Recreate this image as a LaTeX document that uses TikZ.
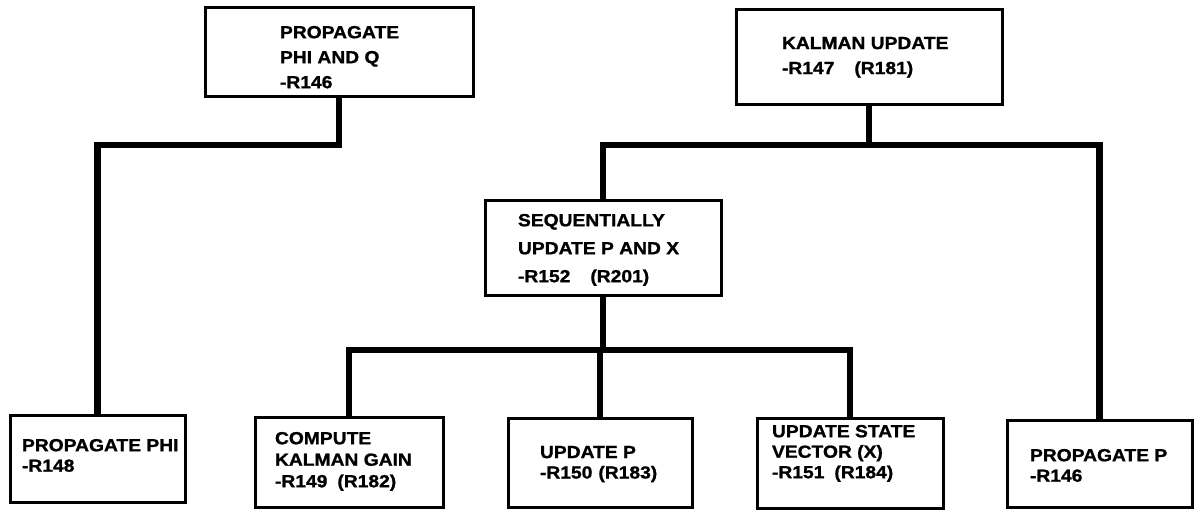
\documentclass[tikz,border=0pt]{standalone}
\usepackage{fontspec}
\setmainfont{Liberation Sans}[FakeStretch=1.1,FakeBold=1.2]
\begin{document}
\begin{tikzpicture}[x=1pt,y=-1pt,
  box/.style={draw=black,line width=3pt,fill=white,inner sep=0pt,outer sep=0pt,anchor=north west},
  label/.style={anchor=north west,inner sep=0pt,outer sep=0pt,align=left,
    font=\bfseries\fontsize{17.5}{25}\selectfont},
  lowlabel/.style={label,font=\bfseries\fontsize{17.5}{20.5}\selectfont},
  link/.style={draw=black,line width=6.5pt,line join=miter}]
\useasboundingbox (0,0) rectangle (1195,519);

% top level
\node[box,minimum width=268pt,minimum height=89pt] (A) at (205,8) {};
\node[box,minimum width=266pt,minimum height=95pt] (B) at (736,10) {};
% middle level
\node[box,minimum width=236pt,minimum height=95pt] (C) at (485,200) {};
% bottom level
\node[box,minimum width=175pt,minimum height=87pt] (D) at (10,415) {};
\node[box,minimum width=188pt,minimum height=90pt] (E) at (255,417) {};
\node[box,minimum width=184pt,minimum height=89pt] (F) at (508,418) {};
\node[box,minimum width=186pt,minimum height=90pt] (G) at (757,418) {};
\node[box,minimum width=185pt,minimum height=87pt] (H) at (1007,420) {};

% box texts
\node[label] (tA) at (280,26) {PROPAGATE\\PHI AND Q\\-R146};
\node[label] (tB) at (782,37) {KALMAN UPDATE\\-R147\hspace{20pt}(R181)};
\node[label,font=\bfseries\fontsize{17.5}{28}\selectfont] (tC) at (518,214) {SEQUENTIALLY\\UPDATE P AND X\\-R152\hspace{20pt}(R201)};
\node[lowlabel] (tD) at (22,439) {PROPAGATE PHI\\-R148};
\node[lowlabel,font=\bfseries\fontsize{17.5}{21.5}\selectfont] (tE) at (275,432) {COMPUTE\\KALMAN GAIN\\-R149\hspace{10pt}(R182)};
\node[lowlabel] (tF) at (540,446) {UPDATE P\\-R150\hspace{6pt}(R183)};
\node[lowlabel] (tG) at (772,425) {UPDATE STATE\\VECTOR (X)\\-R151\hspace{10pt}(R184)};
\node[lowlabel] (tH) at (1030,449) {PROPAGATE P\\-R146};

% connectors
\coordinate (jA) at (0,145);
\coordinate (jB) at (0,145);
\coordinate (jC) at (0,350);
\draw[link] (A.south) |- (D.north |- jA) -- (D.north);
\draw[link] (B.south) -- (B.south |- jB);
\draw[link] (C.north) |- (H.north |- jB) -- (H.north);
\draw[link] (C.south) -- (C.south |- jC);
\draw[link] (E.north) |- (G.north |- jC) -- (G.north);
\draw[link] (F.north) -- (F.north |- jC);
\end{tikzpicture}
\end{document}
